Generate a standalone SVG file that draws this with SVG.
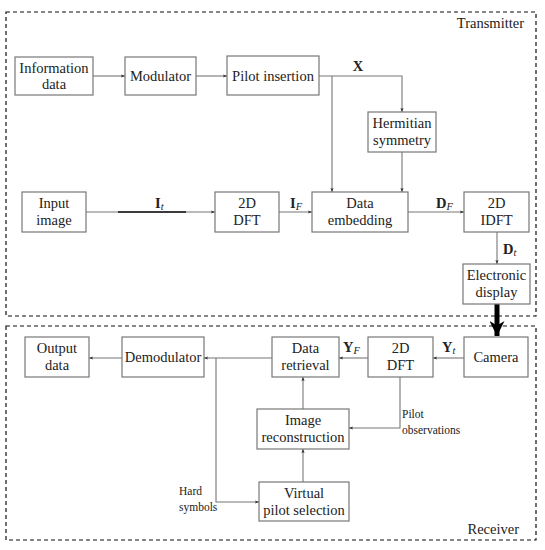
<svg xmlns="http://www.w3.org/2000/svg" width="545" height="550" viewBox="0 0 545 550">
<defs>
<marker id="ah" viewBox="0 0 10 10" refX="10" refY="5" markerWidth="4" markerHeight="4" orient="auto" markerUnits="userSpaceOnUse">
<path d="M0,1 L10,5 L0,9 L2,5 Z" fill="#333"/>
</marker>
<marker id="big" viewBox="0 0 10 10" refX="10" refY="5" markerWidth="3" markerHeight="3" orient="auto">
<path d="M0,0 L10,5 L0,10 L3,5 Z" fill="#000"/>
</marker>
</defs>
<style>
.box{fill:#fff;stroke:#777;stroke-width:1.2}
.frame{fill:none;stroke:#111;stroke-width:1.2;stroke-dasharray:4,3}
.c{fill:none;stroke:#777;stroke-width:1.1}
text{font-size:14.5px;fill:#222}
.m{text-anchor:middle}
.s{font-size:11.5px}
.b{font-weight:bold}
.i{font-style:italic;font-size:10.5px}
</style>
<g font-family="'Liberation Serif', 'DejaVu Serif', 'Times New Roman', serif">
<rect class="frame" x="6" y="12" width="530" height="304"/>
<rect class="frame" x="6" y="326" width="530" height="214"/>
<text x="524" y="28" text-anchor="end">Transmitter</text>
<text x="519" y="534" text-anchor="end">Receiver</text>

<g id="connectors">
<line class="c" x1="93" y1="76" x2="125" y2="76" marker-end="url(#ah)"/>
<line class="c" x1="196" y1="76" x2="227" y2="76" marker-end="url(#ah)"/>
<polyline class="c" points="319,76 402,76 402,112" marker-end="url(#ah)"/>
<line class="c" x1="332" y1="76" x2="332" y2="192" marker-end="url(#ah)"/>
<line class="c" x1="402" y1="152" x2="402" y2="192" marker-end="url(#ah)"/>
<line class="c" x1="86" y1="212" x2="215" y2="212" marker-end="url(#ah)"/>
<line x1="118" y1="212" x2="186" y2="212" stroke="#111" stroke-width="1.6"/>
<line class="c" x1="279" y1="212" x2="312" y2="212" marker-end="url(#ah)"/>
<line class="c" x1="408" y1="212" x2="464" y2="212" marker-end="url(#ah)"/>
<line class="c" x1="497" y1="232" x2="497" y2="264" marker-end="url(#ah)"/>
<line x1="497" y1="304" x2="497" y2="336" stroke="#000" stroke-width="5" marker-end="url(#big)"/>
<line class="c" x1="464" y1="358" x2="433" y2="358" marker-end="url(#ah)"/>
<line class="c" x1="368" y1="358" x2="339" y2="358" marker-end="url(#ah)"/>
<line class="c" x1="272" y1="358" x2="204" y2="358" marker-end="url(#ah)"/>
<line class="c" x1="122" y1="358" x2="89" y2="358" marker-end="url(#ah)"/>
<polyline class="c" points="400,377 400,428 349,428" marker-end="url(#ah)"/>
<line class="c" x1="303" y1="409" x2="303" y2="377" marker-end="url(#ah)"/>
<line class="c" x1="303" y1="482" x2="303" y2="449" marker-end="url(#ah)"/>
<polyline class="c" points="216,358 216,502 259,502" marker-end="url(#ah)"/>
</g>

<g id="labels">
<text x="358" y="71" class="b m">X</text>
<text x="155" y="208" class="b">I<tspan class="i" dy="2" font-weight="normal">t</tspan></text>
<text x="290" y="208" class="b">I<tspan class="i" dy="2" font-weight="normal">F</tspan></text>
<text x="436" y="208" class="b">D<tspan class="i" dy="2" font-weight="normal">F</tspan></text>
<text x="503" y="254" class="b">D<tspan class="i" dy="2" font-weight="normal">t</tspan></text>
<text x="343" y="352" class="b">Y<tspan class="i" dy="2" font-weight="normal">F</tspan></text>
<text x="442" y="352" class="b">Y<tspan class="i" dy="2" font-weight="normal">t</tspan></text>
<text x="402" y="418" class="s">Pilot</text>
<text x="402" y="434" class="s">observations</text>
<text x="179" y="495" class="s">Hard</text>
<text x="179" y="511" class="s">symbols</text>
</g>

<g id="info"><rect class="box" x="15" y="57" width="78" height="38"/><text class="m" x="54" y="73">Information</text><text class="m" x="54" y="89">data</text></g>
<g id="modulator"><rect class="box" x="125" y="57" width="71" height="38"/><text class="m" x="160.5" y="81">Modulator</text></g>
<g id="pilot"><rect class="box" x="227" y="56" width="92" height="39"/><text class="m" x="273" y="81">Pilot insertion</text></g>
<g id="hermitian"><rect class="box" x="368" y="112" width="68" height="40"/><text class="m" x="402" y="128">Hermitian</text><text class="m" x="402" y="145">symmetry</text></g>
<g id="input"><rect class="box" x="22" y="192" width="64" height="40"/><text class="m" x="54" y="208">Input</text><text class="m" x="54" y="225">image</text></g>
<g id="dft1"><rect class="box" x="215" y="192" width="64" height="40"/><text class="m" x="247" y="208">2D</text><text class="m" x="247" y="225">DFT</text></g>
<g id="embed"><rect class="box" x="312" y="192" width="96" height="40"/><text class="m" x="360" y="208">Data</text><text class="m" x="360" y="225">embedding</text></g>
<g id="idft"><rect class="box" x="464" y="192" width="65" height="40"/><text class="m" x="496.5" y="208">2D</text><text class="m" x="496.5" y="225">IDFT</text></g>
<g id="display"><rect class="box" x="463" y="264" width="67" height="40"/><text class="m" x="496.5" y="280">Electronic</text><text class="m" x="496.5" y="297">display</text></g>

<g id="output"><rect class="box" x="25" y="337" width="64" height="40"/><text class="m" x="57" y="353">Output</text><text class="m" x="57" y="370">data</text></g>
<g id="demod"><rect class="box" x="122" y="337" width="82" height="40"/><text class="m" x="163" y="362">Demodulator</text></g>
<g id="retrieval"><rect class="box" x="272" y="337" width="67" height="40"/><text class="m" x="305.5" y="353">Data</text><text class="m" x="305.5" y="370">retrieval</text></g>
<g id="dft2"><rect class="box" x="368" y="337" width="65" height="40"/><text class="m" x="400.5" y="353">2D</text><text class="m" x="400.5" y="370">DFT</text></g>
<g id="camera"><rect class="box" x="464" y="337" width="64" height="40"/><text class="m" x="496" y="362">Camera</text></g>
<g id="recon"><rect class="box" x="257" y="409" width="92" height="40"/><text class="m" x="303" y="425">Image</text><text class="m" x="303" y="442">reconstruction</text></g>
<g id="virtual"><rect class="box" x="259" y="482" width="90" height="39"/><text class="m" x="304" y="498">Virtual</text><text class="m" x="304" y="515">pilot selection</text></g>
</g>
</svg>
